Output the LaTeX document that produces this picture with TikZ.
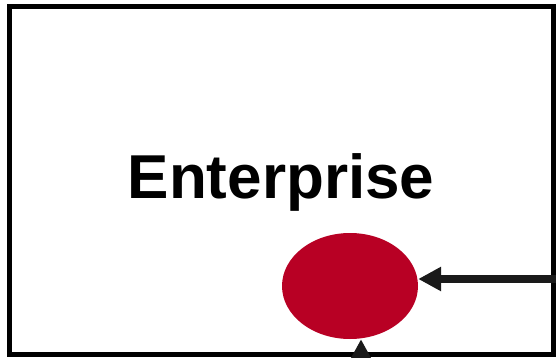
\documentclass[tikz,border=0pt]{standalone}
\usepackage{fontspec}
\setmainfont{Liberation Sans}
\usetikzlibrary{arrows.meta,shapes.geometric}
\definecolor{entred}{RGB}{184,0,36}
\definecolor{arrowgray}{RGB}{26,26,26}
\begin{document}
\begin{tikzpicture}[x=1pt,y=-1pt,
    flow/.style={draw=arrowgray,line width=7.5pt,
      -{Triangle[length=23pt,width=23pt]}}]
    \useasboundingbox (0,0) rectangle (556,358);
    \draw[line width=5pt] (9.5,6.5) rectangle (553.5,354.5);
    \node[anchor=base] (title) at (281,198)
      {\fontsize{62}{62}\selectfont\bfseries Enterprise};
    \node[ellipse,fill=entred,inner sep=0pt,minimum width=136pt,
      minimum height=106pt] (ent) at (350,286) {};
    \coordinate (rin) at (570,279); \coordinate (bin) at (361,372);
    \draw[flow] (rin) -- (rin -| ent.east);
    \draw[flow] (bin) -- (bin |- ent.south);
  \end{tikzpicture}
\end{document}
